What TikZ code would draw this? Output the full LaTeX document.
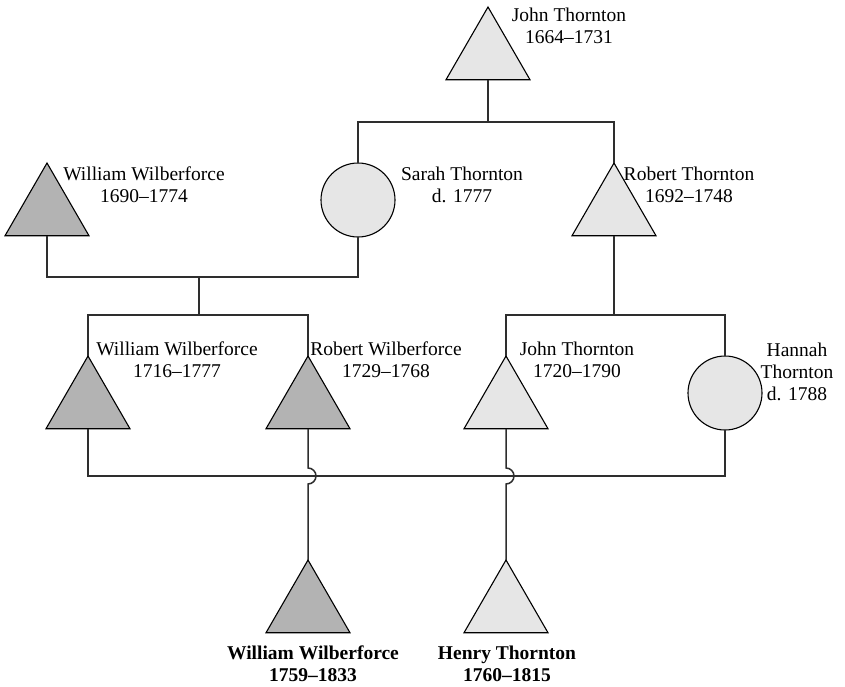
\documentclass[tikz,border=0pt]{standalone}
\usepackage{fontspec}
\setmainfont{Liberation Serif}
\usetikzlibrary{shapes.geometric}
\definecolor{wilber}{HTML}{B3B3B3}
\definecolor{thorn}{HTML}{E6E6E6}
\definecolor{linkcol}{HTML}{2E2E2E}
\begin{document}
\begin{tikzpicture}[x=1pt,y=-1pt,
  male/.style={regular polygon, regular polygon sides=3, minimum size=97pt,
    inner sep=0pt, outer sep=0pt, draw=black, line width=1.1pt},
  female/.style={circle, minimum size=74pt, inner sep=0pt, outer sep=0pt,
    draw=black, line width=1.1pt},
  wil/.style={fill=wilber},
  tho/.style={fill=thorn},
  lbl/.style={font=\fontsize{19.5}{22}\selectfont, align=center, anchor=north,
    inner sep=0pt, outer sep=0pt},
  link/.style={draw=linkcol, line width=1.5pt}]
\useasboundingbox (0,0) rectangle (845,686);

% people
\node[male,tho] (jt1) at (488,55.5) {};
\node[male,wil] (ww1) at (47,211.5) {};
\node[female,tho] (sarah) at (358,200) {};
\node[male,tho] (rt) at (614,211.5) {};
\node[male,wil] (ww2) at (88,404.5) {};
\node[male,wil] (rw) at (308,404.5) {};
\node[male,tho] (jt2) at (506,404.5) {};
\node[female,tho] (hannah) at (725,393) {};
\node[male,wil] (ww3) at (308,608.5) {};
\node[male,tho] (henry) at (506,608.5) {};

% names and dates
\node[lbl] (jt1l) at (569,8) {John Thornton\\1664--1731};
\node[lbl] (ww1l) at (144,167) {William Wilberforce\\1690--1774};
\node[lbl] (sarahl) at (462,167) {Sarah Thornton\\d. 1777};
\node[lbl] (rtl) at (689,167) {Robert Thornton\\1692--1748};
\node[lbl] (ww2l) at (177,342) {William Wilberforce\\1716--1777};
\node[lbl] (rwl) at (386,342) {Robert Wilberforce\\1729--1768};
\node[lbl] (jt2l) at (577,342) {John Thornton\\1720--1790};
\node[lbl] (hannahl) at (797,343) {Hannah\\Thornton\\d. 1788};
\node[lbl,font=\fontsize{19.5}{22}\selectfont\bfseries] (ww3l) at (313,646)
  {William Wilberforce\\1759--1833};
\node[lbl,font=\fontsize{19.5}{22}\selectfont\bfseries] (henryl) at (507,646)
  {Henry Thornton\\1760--1815};

% junction points
\coordinate (f1) at (488,122);
\coordinate (m2) at (199,277);
\coordinate (f2) at (199,315);
\coordinate (f3) at (614,315);
\coordinate (bl) at (88,476);
\coordinate (br) at (725,476);
\coordinate (hop1) at (308,468);
\coordinate (hop2) at (506,468);

% family lines
\draw[link] (jt1.south) -- (f1);
\draw[link] (sarah.north) |- (f1) -| (rt.north);
\draw[link] (ww1.south) |- (m2) -| (sarah.south);
\draw[link] (m2) -- (f2);
\draw[link] (ww2.north) |- (f2) -| (rw.north);
\draw[link] (rt.south) -- (f3);
\draw[link] (jt2.north) |- (f3) -| (hannah.north);
\draw[link] (ww2.south) -- (bl) -- (br) -- (hannah.south);

% descents crossing the lower marriage line
\draw[link] (rw.south) -- (hop1)
  arc[start angle=90, end angle=-90, radius=8pt] -- (ww3.north);
\draw[link] (jt2.south) -- (hop2)
  arc[start angle=90, end angle=-90, radius=8pt] -- (henry.north);
\end{tikzpicture}
\end{document}
